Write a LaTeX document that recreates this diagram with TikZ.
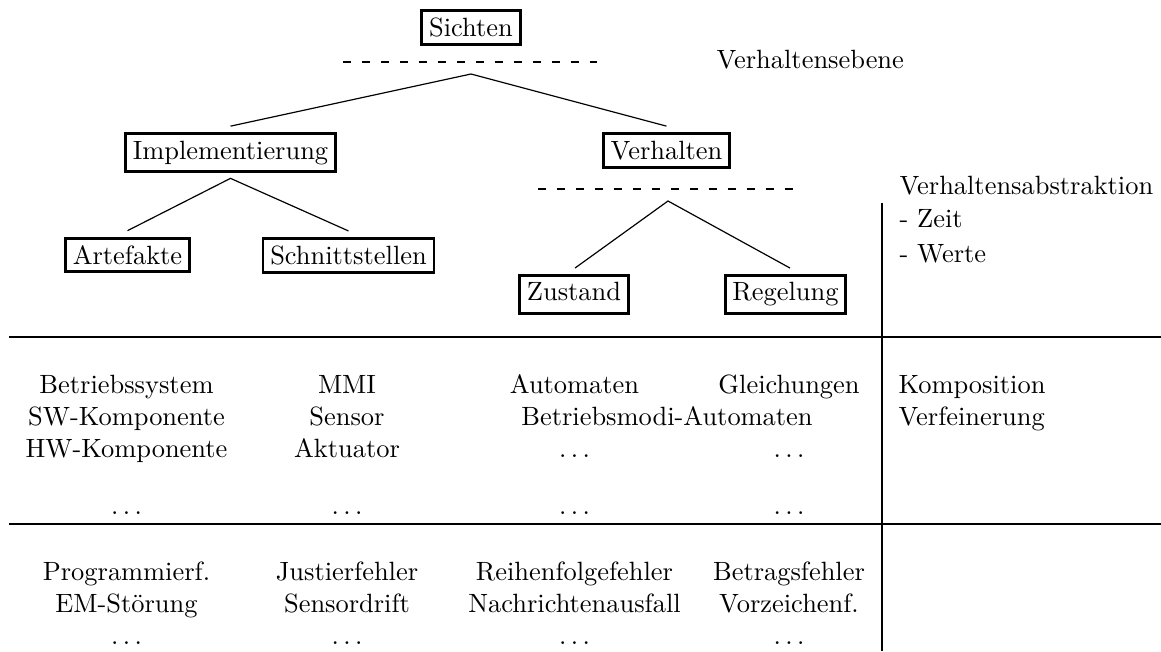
\documentclass[tikz,border=0pt]{standalone}
\usetikzlibrary{calc}
\newcommand{\moredots}{$\ldots$}
\begin{document}
\begin{tikzpicture}[x=0.3785pt,y=-0.3785pt,
  viewbox/.style={draw, line width=1.1pt, inner sep=2.75pt, anchor=base},
  cell/.style={inner sep=0pt, anchor=base},
  lefttext/.style={inner sep=0pt, anchor=base west},
  branch/.style={line width=0.45pt},
  tablerule/.style={line width=1.1pt},
  levelline/.style={line width=0.6pt, dash pattern=on 3.03pt off 4.15pt}
]
\useasboundingbox (0,0) rectangle (1161,651);

% ---------- tree of views ----------
\node[viewbox] (sichten) at (471,36.3) {Sichten};
\node[viewbox] (impl) at (230.5,159.2) {Implementierung};
\node[viewbox] (verh) at (666.5,159.2) {Verhalten};
\node[viewbox] (artef) at (127.5,264.3) {Artefakte};
\node[viewbox] (schnitt) at (348.5,264.3) {Schnittstellen};
\node[viewbox, text depth=1.94pt] (zustand) at (574,300.7) {Zustand};
\node[viewbox] (regel) at (785.5,300.7) {Regelung};

\draw[levelline] (343,62) -- (597,62);
\draw[levelline] (538,189) -- (795,189);

\coordinate (topfork) at (471,74);
\coordinate (implfork) at ($(impl.south)+(0,5)$);
\coordinate (verhfork) at (668,201);

\draw[branch] ($(impl.north)+(0,-6)$) -- (topfork) -- ($(verh.north)+(0,-6)$);
\draw[branch] ($(artef.north)+(0,-6)$) -- (implfork) -- ($(schnitt.north)+(0,-6)$);
\draw[branch] ($(zustand.north)+(1,-5.6)$) -- (verhfork) -- ($(regel.north)+(4.5,-5.6)$);

\node[lefttext] (ebene) at (716,68.5) {Verhaltensebene};
\node[lefttext] (abstr) at (899,194.5) {Verhaltensabstraktion};
\node[lefttext] (zeit) at (899,227) {- Zeit};
\node[lefttext] (werte) at (899,262.5) {- Werte};

% ---------- table rules ----------
\draw[tablerule] (9,337) -- (1161,337);
\draw[tablerule] (9,524) -- (1161,524);
\draw[tablerule] (882,203) -- (882,651);

% ---------- models ----------
\node[cell] (m11) at (126.5,393) {Betriebssystem};
\node[cell] (m12) at (126.5,425) {SW-Komponente};
\node[cell] (m13) at (126.5,457) {HW-Komponente};
\node[cell] (m14) at (126.5,514) {\moredots};

\node[cell] (m21) at (347,393) {MMI};
\node[cell] (m22) at (347,425) {Sensor};
\node[cell] (m23) at (347,457) {Aktuator};
\node[cell] (m24) at (347,514) {\moredots};

\node[cell] (m31) at (574.5,393) {Automaten};
\node[cell] (m41) at (789,393) {Gleichungen};
\node[cell] (m32) at (667,425) {Betriebsmodi-Automaten};
\node[cell] (m33) at (574.5,457) {\moredots};
\node[cell] (m43) at (789,457) {\moredots};
\node[cell] (m34) at (574.5,514) {\moredots};
\node[cell] (m44) at (789,514) {\moredots};

\node[lefttext] (komp) at (898,393) {Komposition};
\node[lefttext] (verf) at (898,425) {Verfeinerung};

% ---------- faults ----------
\node[cell] (f11) at (126.5,580) {Programmierf.};
\node[cell] (f12) at (126.5,612) {EM-Störung};
\node[cell] (f13) at (126.5,644) {\moredots};

\node[cell] (f21) at (347,580) {Justierfehler};
\node[cell] (f22) at (347,612) {Sensordrift};
\node[cell] (f23) at (347,644) {\moredots};

\node[cell] (f31) at (574.5,580) {Reihenfolgefehler};
\node[cell] (f32) at (574.5,612) {Nachrichtenausfall};
\node[cell] (f33) at (574.5,644) {\moredots};

\node[cell] (f41) at (789,580) {Betragsfehler};
\node[cell] (f42) at (789,612) {Vorzeichenf.};
\node[cell] (f43) at (789,644) {\moredots};
\end{tikzpicture}
\end{document}
